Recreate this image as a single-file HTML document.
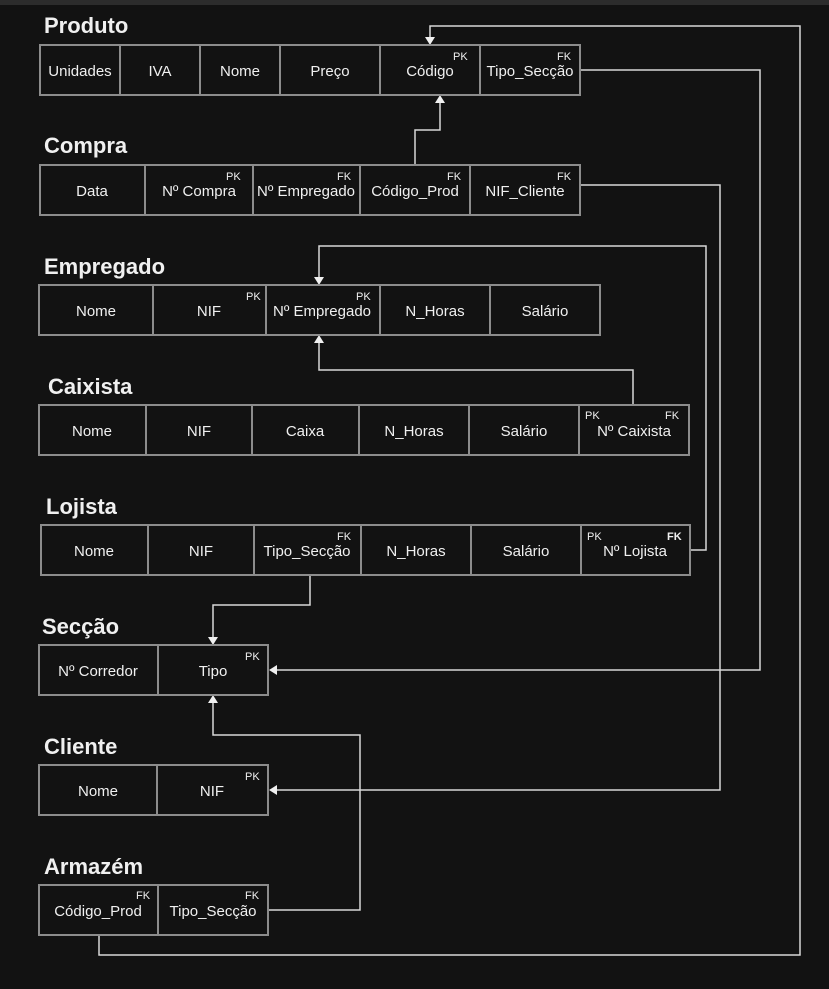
<!DOCTYPE html>
<html><head><meta charset="utf-8"><style>
html,body{margin:0;padding:0;background:#121212;}
svg{display:block}
text{font-family:"Liberation Sans",Arial,sans-serif;fill:#f0f0f0}
.t{font-size:22px;font-weight:bold}
.c{font-size:15px;text-anchor:middle}
.k{font-size:11px}
.b{fill:#121212;stroke:#8c8c8c;stroke-width:2}
.l{fill:none;stroke:#d8d8d8;stroke-width:1.5}
.a{fill:#f0f0f0}
</style></head><body>
<svg width="829" height="989" viewBox="0 0 829 989">
<rect x="0" y="0" width="829" height="5" fill="#2c2c2c"/>
<!-- connectors -->
<polyline class="l" points="415,165 415,130 440,130 440,100"/>
<polygon class="a" points="440,95 435,103 445,103"/>
<polyline class="l" points="580,70 760,70 760,670 275,670"/>
<polygon class="a" points="269,670 277,665 277,675"/>
<polyline class="l" points="580,185 720,185 720,790 275,790"/>
<polygon class="a" points="269,790 277,785 277,795"/>
<polyline class="l" points="690,550 706,550 706,246 319,246 319,280"/>
<polygon class="a" points="319,285 314,277 324,277"/>
<polyline class="l" points="633,405 633,370 319,370 319,340"/>
<polygon class="a" points="319,335 314,343 324,343"/>
<polyline class="l" points="310,575 310,605 213,605 213,640"/>
<polygon class="a" points="213,645 208,637 218,637"/>
<polyline class="l" points="268,910 360,910 360,735 213,735 213,700"/>
<polygon class="a" points="213,695 208,703 218,703"/>
<polyline class="l" points="99,935 99,955 800,955 800,26 430,26 430,40"/>
<polygon class="a" points="430,45 425,37 435,37"/>

<!-- Produto -->
<text class="t" x="44" y="33">Produto</text>
<rect class="b" x="40" y="45" width="80" height="50"/><text class="c" x="80" y="76">Unidades</text>
<rect class="b" x="120" y="45" width="80" height="50"/><text class="c" x="160" y="76">IVA</text>
<rect class="b" x="200" y="45" width="80" height="50"/><text class="c" x="240" y="76">Nome</text>
<rect class="b" x="280" y="45" width="100" height="50"/><text class="c" x="330" y="76">Preço</text>
<rect class="b" x="380" y="45" width="100" height="50"/><text class="c" x="430" y="76">Código</text><text class="k" x="453" y="60">PK</text>
<rect class="b" x="480" y="45" width="100" height="50"/><text class="c" x="530" y="76">Tipo_Secção</text><text class="k" x="557" y="60">FK</text>

<!-- Compra -->
<text class="t" x="44" y="153">Compra</text>
<rect class="b" x="40" y="165" width="105" height="50"/><text class="c" x="92" y="196">Data</text>
<rect class="b" x="145" y="165" width="108" height="50"/><text class="c" x="199" y="196">Nº Compra</text><text class="k" x="226" y="180">PK</text>
<rect class="b" x="253" y="165" width="107" height="50"/><text class="c" x="306" y="196">Nº Empregado</text><text class="k" x="337" y="180">FK</text>
<rect class="b" x="360" y="165" width="110" height="50"/><text class="c" x="415" y="196">Código_Prod</text><text class="k" x="447" y="180">FK</text>
<rect class="b" x="470" y="165" width="110" height="50"/><text class="c" x="525" y="196">NIF_Cliente</text><text class="k" x="557" y="180">FK</text>

<!-- Empregado -->
<text class="t" x="44" y="274">Empregado</text>
<rect class="b" x="39" y="285" width="114" height="50"/><text class="c" x="96" y="316">Nome</text>
<rect class="b" x="153" y="285" width="113" height="50"/><text class="c" x="209" y="316">NIF</text><text class="k" x="246" y="300">PK</text>
<rect class="b" x="266" y="285" width="114" height="50"/><text class="c" x="322" y="316">Nº Empregado</text><text class="k" x="356" y="300">PK</text>
<rect class="b" x="380" y="285" width="110" height="50"/><text class="c" x="435" y="316">N_Horas</text>
<rect class="b" x="490" y="285" width="110" height="50"/><text class="c" x="545" y="316">Salário</text>

<!-- Caixista -->
<text class="t" x="48" y="394">Caixista</text>
<rect class="b" x="39" y="405" width="107" height="50"/><text class="c" x="92" y="436">Nome</text>
<rect class="b" x="146" y="405" width="106" height="50"/><text class="c" x="199" y="436">NIF</text>
<rect class="b" x="252" y="405" width="107" height="50"/><text class="c" x="305" y="436">Caixa</text>
<rect class="b" x="359" y="405" width="110" height="50"/><text class="c" x="414" y="436">N_Horas</text>
<rect class="b" x="469" y="405" width="110" height="50"/><text class="c" x="524" y="436">Salário</text>
<rect class="b" x="579" y="405" width="110" height="50"/><text class="c" x="634" y="436">Nº Caixista</text><text class="k" x="585" y="419">PK</text><text class="k" x="665" y="419">FK</text>

<!-- Lojista -->
<text class="t" x="46" y="514">Lojista</text>
<rect class="b" x="41" y="525" width="107" height="50"/><text class="c" x="94" y="556">Nome</text>
<rect class="b" x="148" y="525" width="106" height="50"/><text class="c" x="201" y="556">NIF</text>
<rect class="b" x="254" y="525" width="107" height="50"/><text class="c" x="307" y="556">Tipo_Secção</text><text class="k" x="337" y="540">FK</text>
<rect class="b" x="361" y="525" width="110" height="50"/><text class="c" x="416" y="556">N_Horas</text>
<rect class="b" x="471" y="525" width="110" height="50"/><text class="c" x="526" y="556">Salário</text>
<rect class="b" x="581" y="525" width="109" height="50"/><text class="c" x="635" y="556">Nº Lojista</text><text class="k" x="587" y="540">PK</text><text class="k" x="667" y="540" font-weight="bold">FK</text>

<!-- Secção -->
<text class="t" x="42" y="634">Secção</text>
<rect class="b" x="39" y="645" width="119" height="50"/><text class="c" x="98" y="676">Nº Corredor</text>
<rect class="b" x="158" y="645" width="110" height="50"/><text class="c" x="213" y="676">Tipo</text><text class="k" x="245" y="660">PK</text>

<!-- Cliente -->
<text class="t" x="44" y="754">Cliente</text>
<rect class="b" x="39" y="765" width="118" height="50"/><text class="c" x="98" y="796">Nome</text>
<rect class="b" x="157" y="765" width="111" height="50"/><text class="c" x="212" y="796">NIF</text><text class="k" x="245" y="780">PK</text>

<!-- Armazém -->
<text class="t" x="44" y="874">Armazém</text>
<rect class="b" x="39" y="885" width="119" height="50"/><text class="c" x="98" y="916">Código_Prod</text><text class="k" x="136" y="899">FK</text>
<rect class="b" x="158" y="885" width="110" height="50"/><text class="c" x="213" y="916">Tipo_Secção</text><text class="k" x="245" y="899">FK</text>
</svg>
</body></html>
